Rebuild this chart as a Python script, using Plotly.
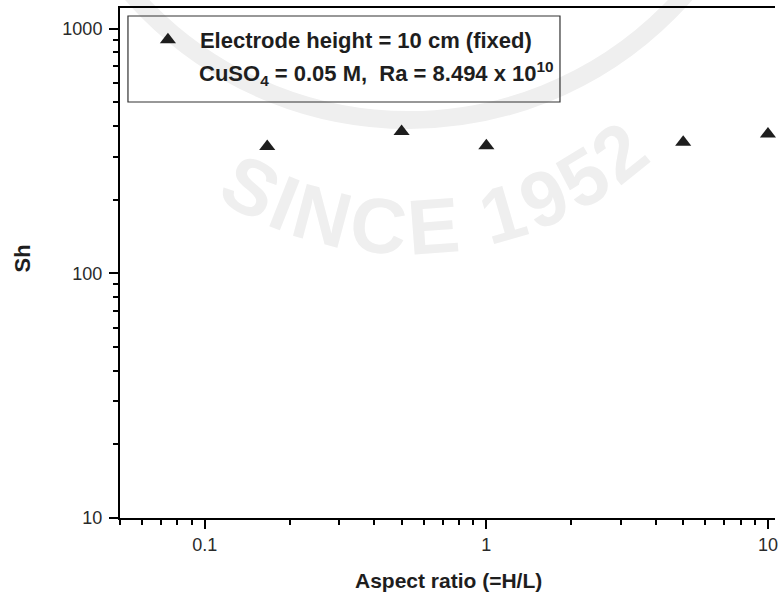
import numpy as np
import plotly.graph_objects as go

# Measured Sherwood numbers against cell aspect ratio
aspect_ratio = [1 / 6, 0.5, 1, 5, 10]
sherwood = [330, 380, 332, 343, 371]

x_tick_vals = [0.1, 1, 10]
x_tick_text = ["0.1", "1", "10"]
y_tick_vals = [10, 100, 1000]
y_tick_text = ["10", "100", "1000"]

series_name = "Electrode height = 10 cm (fixed)"
condition_text = "CuSO<sub>4</sub> = 0.05 M,  Ra = 8.494 x 10<sup>10</sup>"
x_title = "Aspect ratio (=H/L)"
y_title = "Sh"
seal_text = "SINCE 1952"

# ---- page geometry (pixels) ----
W, H = 778, 598
ML, MR, MT, MB = 120, 0, 8, 80
PW, PH = W - ML - MR, H - MT - MB


def px(x):
    """pixel column -> paper x"""
    return (x - ML) / PW


def py(y):
    """pixel row (from top) -> paper y"""
    return (H - MB - y) / PH


def minor_vals(decades, majors):
    vals = [k * 10.0 ** e for e in decades for k in range(2, 10)]
    return [v for v in vals if v not in majors]


FONT = "Liberation Sans, Arial, sans-serif"
INK = "#1e1e1e"
WM = "#efefef"

fig = go.Figure()

fig.add_trace(
    go.Scatter(
        x=aspect_ratio,
        y=sherwood,
        mode="markers",
        name=series_name,
        marker=dict(symbol="triangle-up", size=14, color=INK, line=dict(width=0)),
        cliponaxis=False,
        showlegend=True,
    )
)

# ---- faint seal in the background ----
shapes = []


def ring(cx, cy, r, w):
    shapes.append(
        dict(
            type="circle", xref="paper", yref="paper", layer="below",
            x0=px(cx - r), x1=px(cx + r), y0=py(cy + r), y1=py(cy - r),
            line=dict(color=WM, width=w), fillcolor="rgba(0,0,0,0)",
        )
    )


ring(410, -250, 370, 18)

seal_size = 78
widths = {"S": 667, "I": 278, "N": 722, "C": 722, "E": 667, " ": 278,
          "1": 556, "9": 556, "5": 556, "2": 556}
cx, cy, R_txt = 410, -110, 330
total = sum(widths[c] for c in seal_text) * seal_size / 1000
theta0 = np.deg2rad(5) - total / R_txt / 2
acc = 0.0
for ch in seal_text:
    w = widths[ch] * seal_size / 1000
    th = theta0 + (acc + w / 2) / R_txt
    acc += w
    if ch == " ":
        continue
    lx = cx + R_txt * np.sin(th)
    ly = cy + R_txt * np.cos(th)
    shapes.append(
        dict(
            type="rect", xref="paper", yref="paper", layer="below",
            x0=px(lx - 1), x1=px(lx + 1), y0=py(ly + 1), y1=py(ly - 1),
            line=dict(width=0), fillcolor="rgba(0,0,0,0)",
            label=dict(text=ch, textangle=-np.rad2deg(th),
                       textposition="middle center",
                       font=dict(family=FONT, size=seal_size, color=WM, weight="bold")),
        )
    )

# legend frame
shapes.append(
    dict(
        type="rect", xref="paper", yref="paper", layer="above",
        x0=px(128), x1=px(562), y0=py(102), y1=py(16),
        line=dict(color="#333333", width=1.2), fillcolor="rgba(0,0,0,0)",
    )
)

annotations = [
    dict(
        text=condition_text, xref="paper", yref="paper",
        x=px(197), y=py(74), xanchor="left", yanchor="middle", showarrow=False,
        font=dict(family=FONT, size=22, color=INK, weight="bold"),
    ),
    dict(
        text=x_title, xref="paper", yref="paper",
        x=px(450), y=py(580), xanchor="center", yanchor="middle", showarrow=False,
        font=dict(family=FONT, size=21, color=INK, weight="bold"),
    ),
    dict(
        text=y_title, xref="paper", yref="paper", textangle=-90,
        x=px(22), y=py(258), xanchor="center", yanchor="middle", showarrow=False,
        font=dict(family=FONT, size=22, color=INK, weight="bold"),
    ),
]

axis_common = dict(
    type="log",
    showgrid=False,
    zeroline=False,
    showline=True,
    linecolor="black",
    linewidth=2,
    ticks="outside",
    ticklen=9,
    tickwidth=1.6,
    tickcolor="black",
    ticklabeloverflow="allow",
    tickfont=dict(family=FONT, size=18, color="#2a2a2a"),
)

fig.update_layout(
    width=W,
    height=H,
    margin=dict(l=ML, r=MR, t=MT, b=MB, pad=0),
    paper_bgcolor="white",
    plot_bgcolor="rgba(0,0,0,0)",
    showlegend=True,
    legend=dict(
        x=px(136), y=py(19), xanchor="left", yanchor="top",
        bgcolor="rgba(0,0,0,0)", borderwidth=0, itemwidth=54,
        font=dict(family=FONT, size=22, color=INK, weight="bold"),
    ),
    xaxis=dict(
        **axis_common,
        range=[-1.301, 1.025],
        tickvals=x_tick_vals,
        ticktext=x_tick_text,
        mirror=True,
        minor=dict(tickvals=minor_vals([-2, -1, 0, 1], x_tick_vals),
                   ticks="outside", ticklen=5, tickwidth=1.6, tickcolor="black"),
    ),
    yaxis=dict(
        **axis_common,
        range=[1, 3.084],
        tickvals=y_tick_vals,
        ticktext=y_tick_text,
        ticklabelstandoff=3,
        minor=dict(tickvals=minor_vals([1, 2, 3], y_tick_vals),
                   ticks="outside", ticklen=5, tickwidth=1.6, tickcolor="black"),
    ),
    shapes=shapes,
    annotations=annotations,
)

fig.write_html("out.html")
